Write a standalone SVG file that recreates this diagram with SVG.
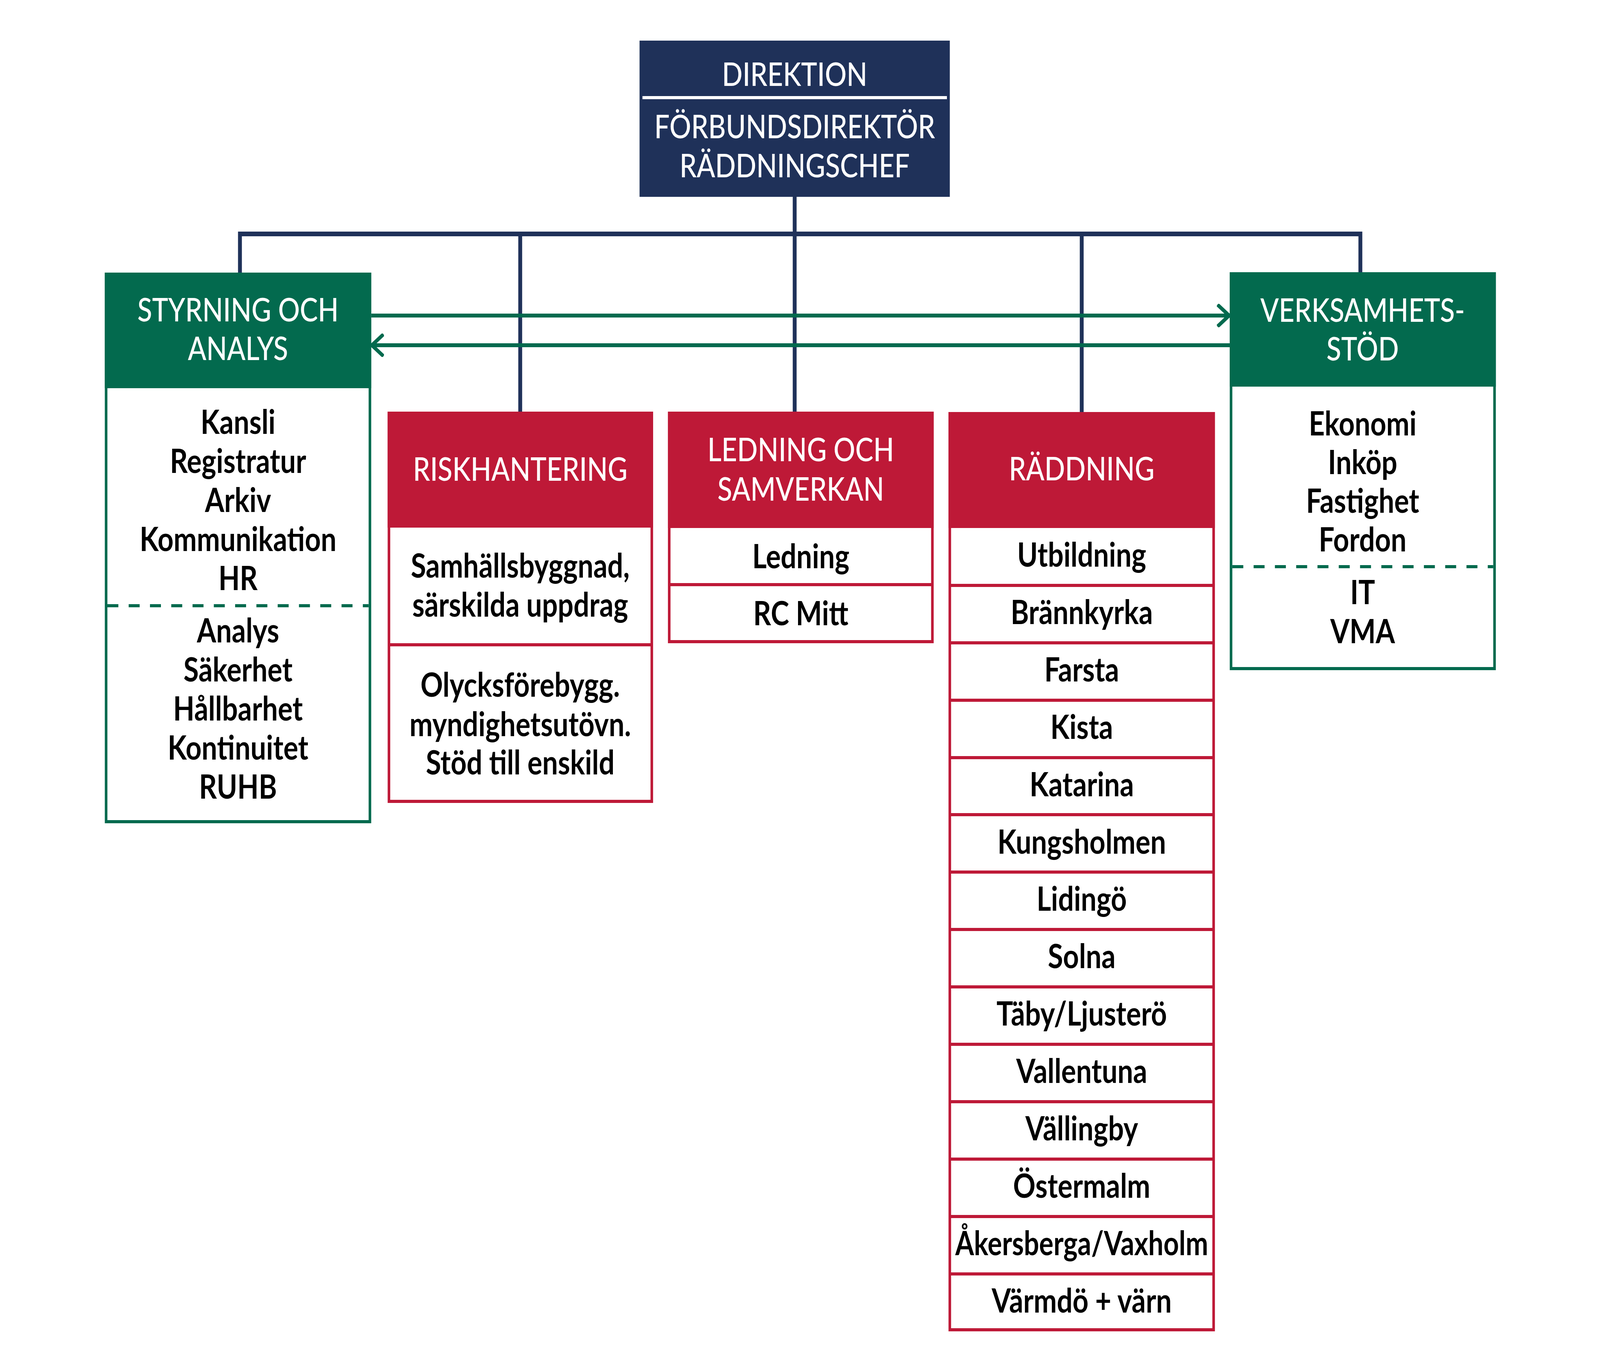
<svg xmlns="http://www.w3.org/2000/svg" width="4961" height="3508" viewBox="0 0 4961 3508" preserveAspectRatio="none" style="width:100vw;height:100vh">
<defs>
<style>
.hdr{font-family:Lato,"Noto Sans","Liberation Sans",sans-serif;font-size:84px;font-weight:500;fill:#ffffff;text-anchor:middle}
.txt{font-family:Lato,"Noto Sans","Liberation Sans",sans-serif;font-size:86px;font-weight:700;fill:#000000;text-anchor:middle}
.navy{stroke:#1F3159;stroke-width:12;fill:none}
.grn{stroke:#036A4E;stroke-width:10;fill:none}
.gbox{fill:#ffffff;stroke:#036A4E;stroke-width:8}
.rbox{fill:#ffffff;stroke:#BE1937;stroke-width:8}
.gfill{fill:#036A4E}
.rfill{fill:#BE1937}
.rline{stroke:#BE1937;stroke-width:8}
.gdash{stroke:#036A4E;stroke-width:8;stroke-dasharray:34 32}
</style>
<marker id="arr" viewBox="0 0 40 60" refX="38" refY="30" markerWidth="40" markerHeight="60" markerUnits="userSpaceOnUse" orient="auto">
<path d="M2,2 L38,30 L2,58" fill="none" stroke="#036A4E" stroke-width="10"/>
</marker>
</defs>
<rect x="0" y="0" width="4961" height="3508" fill="#ffffff"/>

<g id="connectors">
<path class="navy" d="M744,698 V599 H4218 V697"/>
<path class="navy" d="M1613,599 V1054"/>
<path class="navy" d="M2464,504 V1054"/>
<path class="navy" d="M3354,599 V1055"/>
<line class="grn" x1="1151" y1="808" x2="3811" y2="808" marker-end="url(#arr)"/>
<line class="grn" x1="3813" y1="884" x2="1153" y2="884" marker-end="url(#arr)"/>
</g>

<g id="direktion">
<rect x="1983" y="104" width="962" height="400" fill="#1F3159"/>
<rect x="1992" y="246" width="944" height="8" fill="#ffffff"/>
<text class="hdr" x="2464" y="220">DIREKTION</text>
<text class="hdr" x="2464" y="354">FÖRBUNDSDIREKTÖR</text>
<text class="hdr" x="2464" y="454">RÄDDNINGSCHEF</text>
</g>

<g id="styrning">
<rect class="gbox" x="329" y="702" width="818" height="1402"/>
<rect class="gfill" x="325" y="698" width="826" height="296"/>
<text class="hdr" x="738" y="823">STYRNING OCH</text>
<text class="hdr" x="738" y="922">ANALYS</text>
<text class="txt" x="738" y="1111">Kansli</text>
<text class="txt" x="738" y="1211">Registratur</text>
<text class="txt" x="738" y="1311">Arkiv</text>
<text class="txt" x="738" y="1411">Kommunikation</text>
<text class="txt" x="738" y="1511">HR</text>
<line class="gdash" x1="333" y1="1551" x2="1143" y2="1551"/>
<text class="txt" x="738" y="1645">Analys</text>
<text class="txt" x="738" y="1745">Säkerhet</text>
<text class="txt" x="738" y="1845">Hållbarhet</text>
<text class="txt" x="738" y="1945">Kontinuitet</text>
<text class="txt" x="738" y="2045">RUHB</text>
</g>

<g id="riskhantering">
<rect class="rbox" x="1206" y="1058" width="815" height="994"/>
<rect class="rfill" x="1202" y="1054" width="823" height="297"/>
<text class="hdr" x="1613" y="1231">RISKHANTERING</text>
<text class="txt" x="1613" y="1479">Samhällsbyggnad,</text>
<text class="txt" x="1613" y="1579">särskilda uppdrag</text>
<line class="rline" x1="1206" y1="1651" x2="2021" y2="1651"/>
<text class="txt" x="1613" y="1784">Olycksförebygg.</text>
<text class="txt" x="1613" y="1885">myndighetsutövn.</text>
<text class="txt" x="1613" y="1983">Stöd till enskild</text>
</g>

<g id="ledning">
<rect class="rbox" x="2075" y="1058" width="816" height="585"/>
<rect class="rfill" x="2071" y="1054" width="824" height="298"/>
<text class="hdr" x="2483" y="1181">LEDNING OCH</text>
<text class="hdr" x="2483" y="1282">SAMVERKAN</text>
<text class="txt" x="2483" y="1455">Ledning</text>
<line class="rline" x1="2075" y1="1497" x2="2891" y2="1497"/>
<text class="txt" x="2483" y="1601">RC Mitt</text>
</g>

<g id="raddning">
<rect class="rbox" x="2945" y="1059" width="818" height="2346"/>
<rect class="rfill" x="2941" y="1055" width="826" height="297"/>
<text class="hdr" x="3354" y="1230">RÄDDNING</text>
<line class="rline" x1="2945" y1="1499" x2="3763" y2="1499"/>
<line class="rline" x1="2945" y1="1646" x2="3763" y2="1646"/>
<line class="rline" x1="2945" y1="1793" x2="3763" y2="1793"/>
<line class="rline" x1="2945" y1="1940" x2="3763" y2="1940"/>
<line class="rline" x1="2945" y1="2086" x2="3763" y2="2086"/>
<line class="rline" x1="2945" y1="2233" x2="3763" y2="2233"/>
<line class="rline" x1="2945" y1="2380" x2="3763" y2="2380"/>
<line class="rline" x1="2945" y1="2527" x2="3763" y2="2527"/>
<line class="rline" x1="2945" y1="2674" x2="3763" y2="2674"/>
<line class="rline" x1="2945" y1="2821" x2="3763" y2="2821"/>
<line class="rline" x1="2945" y1="2968" x2="3763" y2="2968"/>
<line class="rline" x1="2945" y1="3115" x2="3763" y2="3115"/>
<line class="rline" x1="2945" y1="3262" x2="3763" y2="3262"/>
<text class="txt" x="3354" y="1451">Utbildning</text>
<text class="txt" x="3354" y="1598">Brännkyrka</text>
<text class="txt" x="3354" y="1745">Farsta</text>
<text class="txt" x="3354" y="1892">Kista</text>
<text class="txt" x="3354" y="2039">Katarina</text>
<text class="txt" x="3354" y="2186">Kungsholmen</text>
<text class="txt" x="3354" y="2332">Lidingö</text>
<text class="txt" x="3354" y="2479">Solna</text>
<text class="txt" x="3354" y="2626">Täby/Ljusterö</text>
<text class="txt" x="3354" y="2773">Vallentuna</text>
<text class="txt" x="3354" y="2920">Vällingby</text>
<text class="txt" x="3354" y="3067">Östermalm</text>
<text class="txt" x="3354" y="3214" textLength="784" lengthAdjust="spacingAndGlyphs">Åkersberga/Vaxholm</text>
<text class="txt" x="3354" y="3361">Värmdö + värn</text>
</g>

<g id="verksamhetsstod">
<rect class="gbox" x="3817" y="701" width="817" height="1011"/>
<rect class="gfill" x="3813" y="697" width="825" height="293"/>
<text class="hdr" x="4225" y="824">VERKSAMHETS-</text>
<text class="hdr" x="4225" y="923">STÖD</text>
<text class="txt" x="4225" y="1115">Ekonomi</text>
<text class="txt" x="4225" y="1214">Inköp</text>
<text class="txt" x="4225" y="1313">Fastighet</text>
<text class="txt" x="4225" y="1412">Fordon</text>
<line class="gdash" x1="3821" y1="1451" x2="4630" y2="1451"/>
<text class="txt" x="4225" y="1547">IT</text>
<text class="txt" x="4225" y="1647">VMA</text>
</g>
</svg>
